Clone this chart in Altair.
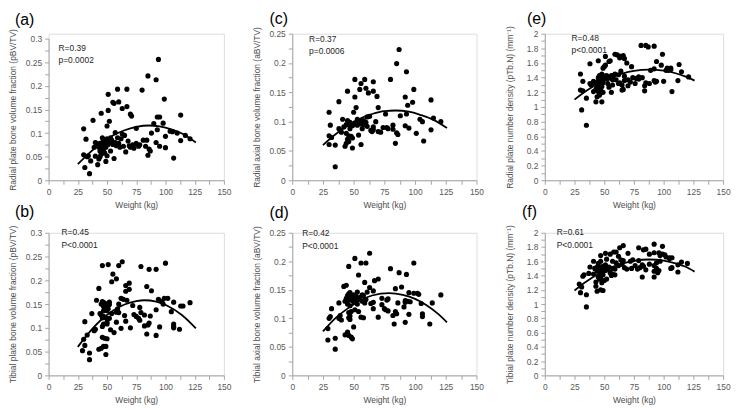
import altair as alt
import pandas as pd

FONT = "Liberation Sans"

# ---------------- data (weight kg, value) ----------------
a_pts = [(94,0.256),(85,0.221),(92,0.213),(80,0.191),(59,0.193),(67,0.193),(51,0.182),(99,0.172),(60,0.166),(55,0.165),
         (56,0.163),(67,0.156),(63,0.152),(51,0.148),(45,0.142),(70,0.140),(71,0.136),(93,0.134),(95,0.134),(113,0.138),
         (38,0.127),(52,0.125),(98,0.121),(50,0.115),(30,0.109),(93,0.107),(75,0.110),(104,0.104),(106,0.103),(113,0.084),
         (100,0.069),(107,0.047),(95,0.072),(92,0.080),(88,0.100),(86,0.066),(85,0.053),(84,0.085),(78,0.075),(75,0.078),
         (73,0.068),(70,0.070),(68,0.083),(66,0.060),(64,0.072),(63,0.098),(62,0.088),(60,0.078),(59,0.090),(57,0.101),
         (56,0.046),(55,0.076),(54,0.085),(53,0.062),(52,0.080),(51,0.076),(50,0.088),(50,0.052),(49,0.040),(49,0.070),
         (48,0.083),(48,0.075),(47,0.072),(47,0.065),(46,0.090),(46,0.080),(46,0.060),(45,0.075),(45,0.068),(45,0.055),
         (44,0.078),(44,0.062),(44,0.050),(43,0.045),(43,0.070),(42,0.033),(41,0.078),(40,0.080),(40,0.051),(39,0.070),
         (36,0.041),(35,0.014),(33,0.050),(32,0.087),(31,0.027),(30,0.054),(34,0.052),(117,0.095),(121,0.088),(90,0.120),
         (100,0.093),(87,0.062),(81,0.085),(77,0.072),(65,0.095),(58,0.073),(53,0.090),(48,0.058),(47,0.085),(57,0.080),
         (61,0.070),(69,0.073),(72,0.075),(110,0.100),(83,0.072)]

b_pts = [(63,0.239),(100,0.236),(51,0.233),(46,0.231),(60,0.231),(79,0.229),(86,0.223),(92,0.223),(55,0.213),(58,0.203),
         (54,0.197),(69,0.194),(66,0.189),(84,0.187),(43,0.183),(69,0.181),(88,0.178),(66,0.177),(62,0.162),(99,0.162),
         (102,0.162),(64,0.160),(94,0.160),(41,0.158),(67,0.158),(46,0.155),(97,0.155),(52,0.154),(107,0.154),(47,0.153),
         (121,0.153),(48,0.152),(45,0.150),(60,0.150),(98,0.150),(52,0.149),(72,0.147),(113,0.146),(115,0.146),(47,0.145),
         (50,0.145),(78,0.143),(51,0.140),(59,0.140),(48,0.138),(92,0.138),(47,0.136),(50,0.136),(105,0.134),(58,0.133),
         (60,0.132),(79,0.132),(37,0.130),(44,0.130),(54,0.130),(73,0.128),(45,0.127),(82,0.127),(65,0.126),(87,0.125),
         (47,0.124),(75,0.124),(46,0.121),(49,0.121),(52,0.120),(77,0.120),(78,0.116),(66,0.114),(31,0.113),(50,0.112),
         (58,0.112),(86,0.110),(50,0.108),(47,0.108),(107,0.108),(85,0.106),(82,0.104),(46,0.103),(107,0.103),(95,0.102),
         (70,0.100),(107,0.100),(62,0.099),(40,0.097),(112,0.097),(53,0.096),(39,0.094),(56,0.090),(84,0.087),(33,0.085),
         (92,0.084),(46,0.080),(48,0.078),(50,0.077),(30,0.076),(31,0.063),(49,0.061),(47,0.061),(45,0.057),(43,0.055),
         (29,0.052),(35,0.047),(49,0.044),(35,0.033)]

c_pts = [(87,0.223),(85,0.199),(93,0.185),(51,0.172),(59,0.172),(80,0.172),(66,0.168),(56,0.165),(60,0.157),(55,0.155),
         (99,0.155),(45,0.152),(66,0.152),(62,0.149),(69,0.143),(51,0.142),(92,0.142),(113,0.137),(38,0.134),(98,0.133),
         (94,0.128),(52,0.124),(70,0.124),(30,0.116),(50,0.116),(93,0.113),(88,0.110),(63,0.109),(61,0.108),(115,0.106),
         (41,0.104),(104,0.104),(45,0.102),(55,0.102),(58,0.102),(106,0.100),(121,0.100),(47,0.099),(60,0.099),(52,0.097),
         (48,0.096),(50,0.096),(56,0.096),(44,0.095),(46,0.095),(31,0.094),(53,0.094),(82,0.094),(49,0.093),(92,0.093),
         (61,0.092),(42,0.091),(66,0.091),(74,0.090),(77,0.090),(95,0.089),(38,0.088),(57,0.088),(78,0.088),(82,0.087),
         (66,0.086),(113,0.086),(39,0.085),(64,0.085),(65,0.083),(70,0.083),(40,0.082),(72,0.082),(85,0.081),(101,0.080),
         (44,0.080),(86,0.078),(54,0.077),(30,0.076),(46,0.076),(48,0.075),(32,0.073),(49,0.072),(45,0.070),(107,0.067),
         (46,0.066),(44,0.063),(84,0.063),(30,0.061),(56,0.061),(35,0.060),(43,0.058),(49,0.055),(35,0.023),(47,0.088),
         (51,0.098),(53,0.104),(58,0.095),(68,0.100),(76,0.113)]

d_pts = [(63,0.214),(51,0.205),(56,0.197),(60,0.197),(99,0.197),(46,0.191),(80,0.187),(87,0.180),(93,0.177),(54,0.176),
         (70,0.169),(67,0.166),(59,0.163),(44,0.158),(42,0.156),(89,0.155),(63,0.154),(84,0.152),(66,0.148),(53,0.146),
         (61,0.146),(47,0.145),(95,0.145),(99,0.144),(102,0.144),(46,0.143),(103,0.142),(50,0.141),(57,0.141),(121,0.141),
         (45,0.140),(58,0.140),(49,0.138),(52,0.138),(55,0.137),(48,0.136),(44,0.135),(51,0.135),(73,0.135),(47,0.134),
         (78,0.134),(53,0.133),(60,0.133),(46,0.132),(77,0.132),(49,0.131),(92,0.131),(43,0.130),(57,0.130),(94,0.130),
         (50,0.129),(96,0.129),(66,0.128),(92,0.128),(38,0.127),(59,0.127),(86,0.127),(114,0.127),(64,0.126),(105,0.126),
         (45,0.125),(53,0.125),(73,0.124),(47,0.122),(91,0.120),(32,0.117),(66,0.117),(75,0.117),(51,0.115),(76,0.115),
         (78,0.113),(48,0.112),(54,0.112),(84,0.112),(46,0.110),(85,0.108),(106,0.108),(95,0.107),(39,0.105),(82,0.105),
         (47,0.104),(31,0.103),(106,0.103),(70,0.102),(56,0.102),(46,0.101),(58,0.101),(30,0.100),(38,0.100),(47,0.098),
         (40,0.097),(92,0.093),(83,0.090),(112,0.090),(50,0.085),(29,0.082),(45,0.076),(43,0.071),(46,0.070),(48,0.067),
         (49,0.064),(35,0.065),(29,0.062),(35,0.046)]

e_pts = [(81,1.84),(85,1.84),(87,1.82),(92,1.83),(59,1.72),(99,1.72),(61,1.71),(66,1.70),(51,1.69),(64,1.69),
         (66,1.68),(63,1.67),(67,1.66),(45,1.63),(55,1.63),(54,1.62),(94,1.62),(69,1.60),(38,1.59),(113,1.58),
         (51,1.57),(98,1.57),(50,1.55),(73,1.55),(49,1.53),(103,1.53),(106,1.53),(92,1.52),(106,1.51),(89,1.50),
         (102,1.50),(104,1.50),(64,1.49),(115,1.48),(30,1.45),(48,1.45),(59,1.45),(62,1.44),(46,1.43),(52,1.43),
         (56,1.43),(58,1.43),(47,1.42),(51,1.42),(67,1.42),(79,1.41),(47,1.41),(121,1.41),(45,1.40),(74,1.40),
         (82,1.40),(53,1.39),(57,1.39),(77,1.39),(50,1.38),(52,1.38),(79,1.38),(57,1.37),(60,1.37),(70,1.37),
         (48,1.36),(67,1.36),(92,1.36),(112,1.36),(32,1.35),(41,1.35),(45,1.35),(94,1.35),(100,1.35),(44,1.34),
         (72,1.34),(93,1.34),(49,1.33),(63,1.33),(85,1.33),(38,1.32),(53,1.32),(62,1.32),(76,1.32),(88,1.32),
         (40,1.31),(44,1.31),(39,1.30),(46,1.30),(57,1.30),(65,1.30),(70,1.29),(84,1.29),(48,1.28),(44,1.27),
         (54,1.27),(46,1.26),(47,1.25),(43,1.24),(66,1.24),(30,1.23),(65,1.23),(84,1.22),(32,1.22),(41,1.21),
         (45,1.21),(107,1.21),(49,1.20),(56,1.20),(47,1.19),(46,1.16),(44,1.14),(35,1.12),(43,1.07),(48,1.07),
         (31,0.96),(35,0.75)]

f_pts = [(92,1.84),(66,1.82),(99,1.81),(63,1.79),(79,1.79),(85,1.77),(83,1.76),(58,1.73),(60,1.73),(92,1.72),
         (96,1.72),(51,1.71),(70,1.71),(55,1.70),(88,1.70),(99,1.70),(101,1.69),(47,1.68),(97,1.68),(62,1.67),
         (102,1.66),(105,1.65),(107,1.65),(105,1.64),(52,1.63),(74,1.62),(64,1.62),(66,1.61),(79,1.61),(47,1.60),
         (41,1.60),(57,1.60),(72,1.60),(97,1.60),(115,1.59),(60,1.58),(94,1.58),(45,1.57),(120,1.57),(65,1.56),
         (88,1.56),(51,1.55),(82,1.55),(112,1.55),(62,1.54),(76,1.54),(92,1.54),(49,1.53),(83,1.53),(38,1.52),
         (44,1.52),(47,1.52),(52,1.52),(54,1.52),(67,1.51),(107,1.51),(80,1.51),(42,1.50),(48,1.50),(50,1.50),
         (57,1.50),(73,1.50),(106,1.50),(94,1.50),(46,1.49),(53,1.49),(59,1.49),(69,1.49),(78,1.49),(45,1.48),
         (85,1.48),(51,1.47),(96,1.47),(44,1.46),(92,1.46),(48,1.45),(112,1.45),(55,1.44),(95,1.44),(37,1.43),
         (47,1.43),(41,1.42),(57,1.42),(33,1.41),(59,1.41),(49,1.41),(56,1.40),(32,1.39),(45,1.38),(82,1.38),
         (92,1.38),(47,1.36),(52,1.35),(46,1.35),(50,1.33),(43,1.31),(48,1.30),(29,1.28),(43,1.25),(31,1.24),
         (47,1.20),(49,1.19),(44,1.18),(30,1.16),(35,1.13),(35,0.96)]

# fitted curves
a_cx = [25, 35, 45, 55, 65, 75, 86, 95, 105, 115, 126]
a_cy = [0.034, 0.058, 0.079, 0.095, 0.106, 0.113, 0.116, 0.114, 0.108, 0.098, 0.080]
b_cx = [25, 35, 45, 55, 65, 75, 82, 92, 102, 114, 126]
b_cy = [0.060, 0.091, 0.117, 0.136, 0.149, 0.156, 0.158, 0.155, 0.146, 0.127, 0.099]
c_cx = [25, 35, 45, 55, 65, 75, 84, 95, 105, 115, 126]
c_cy = [0.060, 0.078, 0.093, 0.105, 0.113, 0.118, 0.119, 0.117, 0.111, 0.103, 0.089]
d_cx = [25, 35, 45, 55, 65, 79, 90, 100, 110, 118, 126]
d_cy = [0.077, 0.100, 0.117, 0.131, 0.140, 0.144, 0.141, 0.134, 0.122, 0.109, 0.093]
e_cx = [25, 35, 45, 55, 65, 75, 88, 100, 110, 118, 126]
e_cy = [1.10, 1.22, 1.32, 1.40, 1.455, 1.493, 1.51, 1.495, 1.46, 1.417, 1.36]
f_cx = [25, 35, 45, 55, 65, 75, 88, 100, 110, 118, 126]
f_cy = [1.19, 1.317, 1.422, 1.506, 1.567, 1.606, 1.625, 1.609, 1.572, 1.526, 1.455]

x_ticks = [0, 12.5, 25, 37.5, 50, 62.5, 75, 87.5, 100, 112.5, 125, 137.5, 150]

AX = dict(domainColor="#a6a6a6", tickColor="#a6a6a6", tickSize=4, grid=False,
          labelColor="#595959", labelFont=FONT, labelFontSize=8.5,
          titleColor="#4d4d4d", titleFont=FONT, titleFontSize=8.5, titleFontWeight="normal",
          labelOverlap=False, labelFlush=False, labelBound=False)


def panel(pts, cx, cy, ytitle, ymax, ystep, fmt, stat, letter, width, height,
          top_off, letter_pos, stat_pos):
    df = pd.DataFrame(pts, columns=["w", "v"])
    cdf = pd.DataFrame({"w": cx, "v": cy})
    n = int(round(ymax / ystep * 2))
    yvals = [round(i * ystep / 2, 5) for i in range(n + 1)]
    ylab = (f"abs(datum.value/{ystep} - round(datum.value/{ystep})) < 0.001 ? "
            f"format(datum.value, '{fmt}') : ''")
    xscale = alt.Scale(domain=[0, 150], nice=False)
    yscale = alt.Scale(domain=[0, ymax], nice=False, range=[height, top_off])
    xaxis = alt.Axis(title="Weight (kg)", values=x_ticks, titlePadding=5, labelPadding=3,
                     labelExpr="datum.value % 25 == 0 ? format(datum.value, 'd') : ''", **AX)
    yaxis = alt.Axis(title=ytitle, values=yvals, labelExpr=ylab, labelPadding=3,
                     titleX=-31, titleY=(height + top_off) / 2, titleAngle=270,
                     titleAlign="center", titleBaseline="bottom", **AX)
    xenc = alt.X("w:Q", scale=xscale, axis=xaxis)
    yenc = alt.Y("v:Q", scale=yscale, axis=yaxis)
    pts_layer = alt.Chart(df).mark_circle(size=27, color="black", opacity=1).encode(x=xenc, y=yenc)
    curve = alt.Chart(cdf).mark_line(color="black", strokeWidth=1.8, interpolate="monotone").encode(
        x=xenc, y=yenc
    )
    stat_layer = alt.Chart(pd.DataFrame({"t": [stat]})).mark_text(
        align="left", baseline="top", lineBreak="\n", lineHeight=12.5,
        font=FONT, fontSize=8.5, color="#262626"
    ).encode(x=alt.value(stat_pos[0]), y=alt.value(stat_pos[1]), text="t:N")
    letter_layer = alt.Chart(pd.DataFrame({"t": [letter]})).mark_text(
        align="left", baseline="top", font=FONT, fontSize=16, color="black"
    ).encode(x=alt.value(letter_pos[0]), y=alt.value(letter_pos[1]), text="t:N")
    return alt.layer(pts_layer, curve, stat_layer, letter_layer).properties(width=width, height=height)


W1, W2, W3 = 177, 186, 180
H1, H2 = 148, 144

pa = panel(a_pts, a_cx, a_cy, "Radial plate bone volume fraction (pBV/TV)", 0.3, 0.05, ".2~f",
           "R=0.39\np=0.0002", "(a)", W1, H1, 5, (-34, -22), (10, 10.5))
pc = panel(c_pts, c_cx, c_cy, "Radial axial bone volume fraction (aBV/TV)", 0.25, 0.05, ".2~f",
           "R=0.37\np=0.0006", "(c)", W2, H1, 0, (-23, -23), (17, 1.5))
pe = panel(e_pts, e_cx, e_cy, "Radial plate number density (pTb.N) (mm\u207b\u00b9)", 2.0, 0.2, ".1~f",
           "R=0.48\np<0.0001", "(e)", W3, H1, 0, (-18, -23), (27, 0.5))
pb = panel(b_pts, b_cx, b_cy, "Tibial plate bone volume fraction (pBV/TV)", 0.3, 0.05, ".2~f",
           "R=0.45\nP<0.0001", "(b)", W1, H2, 0, (-34, -29), (13, -4.5))
pd_ = panel(d_pts, d_cx, d_cy, "Tibial axial bone volume fraction (aBV/TV)", 0.25, 0.05, ".2~f",
            "R=0.42\nP<0.0001", "(d)", W2, H2, 0, (-23, -28), (10, -3.5))
pf = panel(f_pts, f_cx, f_cy, "Tibial plate number density (pTb.N) (mm\u207b\u00b9)", 2.0, 0.2, ".1~f",
           "R=0.61\nP<0.0001", "(f)", W3, H2, 0, (-23, -29), (12, -4.5))

chart = alt.concat(pa, pc, pe, pb, pd_, pf, columns=3,
                   spacing={"row": 53, "column": 69}, bounds="flush", align="each").properties(
    padding={"left": 0, "top": 0, "right": 0, "bottom": 0}
).configure_view(stroke=None).configure(background="white")

chart.save("out.html", embed_options={"renderer": "svg", "actions": False})
